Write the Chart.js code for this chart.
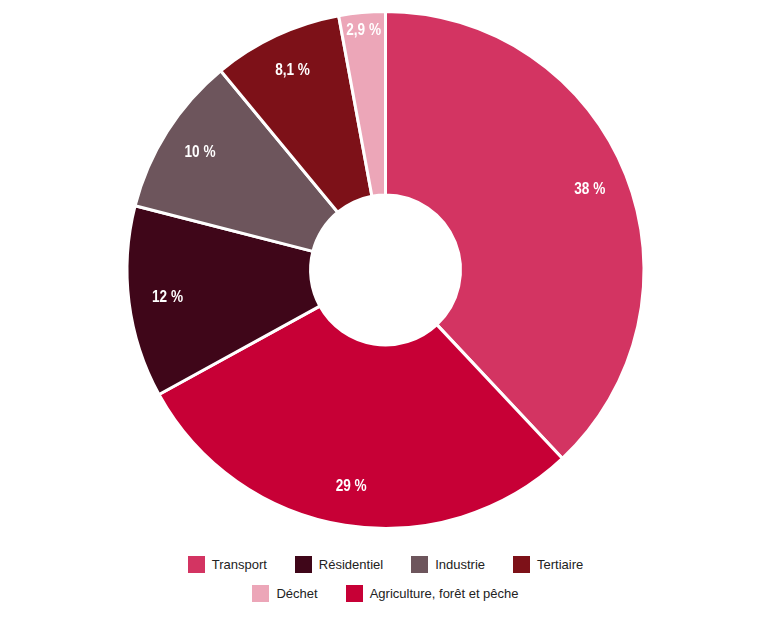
<!DOCTYPE html>
<html>
<head>
<meta charset="utf-8">
<script src="https://cdn.jsdelivr.net/npm/chart.js@4.4.1/dist/chart.umd.min.js"></script>
<style>
  html, body { margin: 0; padding: 0; background: #fff; }
  #wrap { position: relative; width: 771px; height: 540px; }
  #legende { width: 771px; padding-top: 10px; font-family: "Liberation Sans", Arial, sans-serif; font-size: 13px; color: #222; }
  .ligne { display: flex; justify-content: center; height: 29px; align-items: center; }
  .item { display: flex; align-items: center; margin: 0 14px; }
  .carre { width: 17px; height: 17px; margin-right: 7px; }
</style>
</head>
<body>
<div id="wrap"><canvas id="chartEmissions"></canvas></div>
<div id="legende"></div>
<script>
const secteurs = ['Transport', 'Agriculture, forêt et pêche', 'Résidentiel', 'Industrie', 'Tertiaire', 'Déchet'];
const parts = [38, 29, 12, 10, 8.1, 2.9];
const etiquettes = ['38 %', '29 %', '12 %', '10 %', '8,1 %', '2,9 %'];
const couleurs = ['#d33462', '#c70036', '#3f0619', '#6d555c', '#7d1118', '#eca6b8'];
// ordre de la légende (lignes)
const lignesLegende = [[0, 2, 3, 4], [5, 1]];

// Étiquettes blanches sur les parts (police resserrée)
const pluginEtiquettes = {
  id: 'etiquettes',
  afterDatasetsDraw(chart) {
    const ctx = chart.ctx;
    const meta = chart.getDatasetMeta(0);
    meta.data.forEach((arc, i) => {
      const p = arc.getProps(['x', 'y', 'startAngle', 'endAngle', 'outerRadius'], true);
      const angle = (p.startAngle + p.endAngle) / 2;
      const r = p.outerRadius * (parts[i] < 5 ? 0.93 : 0.85);
      ctx.save();
      ctx.translate(p.x + Math.cos(angle) * r, p.y + Math.sin(angle) * r);
      ctx.scale(0.85, 1);
      ctx.fillStyle = '#ffffff';
      ctx.font = 'bold 16px "Liberation Sans", Arial, sans-serif';
      ctx.textAlign = 'center';
      ctx.textBaseline = 'middle';
      ctx.fillText(etiquettes[i], 0, 0);
      ctx.restore();
    });
  }
};

const ctx = document.getElementById('chartEmissions').getContext('2d');
new Chart(ctx, {
  type: 'doughnut',
  data: {
    labels: secteurs,
    datasets: [{
      data: parts,
      backgroundColor: couleurs,
      borderColor: '#ffffff',
      borderWidth: 3
    }]
  },
  options: {
    responsive: true,
    maintainAspectRatio: false,
    animation: false,
    cutout: '29%',
    layout: { padding: { top: 10, bottom: 10 } },
    plugins: {
      legend: { display: false },
      tooltip: { enabled: false }
    }
  },
  plugins: [pluginEtiquettes]
});

// Légende HTML
const legende = document.getElementById('legende');
lignesLegende.forEach(ligne => {
  const div = document.createElement('div');
  div.className = 'ligne';
  ligne.forEach(i => {
    const item = document.createElement('div');
    item.className = 'item';
    item.innerHTML = `<span class="carre" style="background:${couleurs[i]}"></span><span>${secteurs[i]}</span>`;
    div.appendChild(item);
  });
  legende.appendChild(div);
});
</script>
</body>
</html>
